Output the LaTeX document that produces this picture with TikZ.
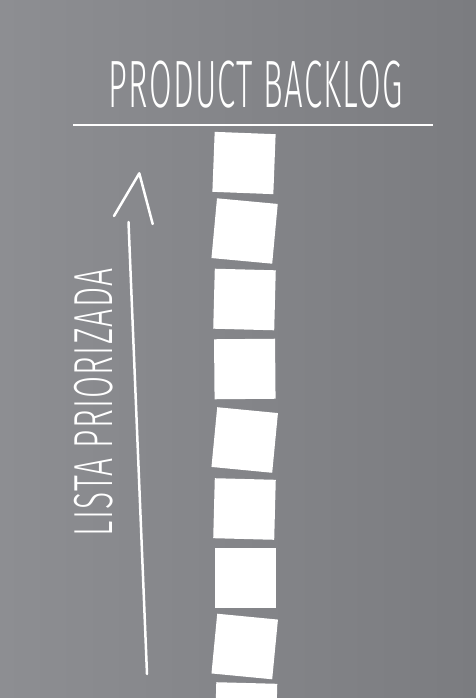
\documentclass[tikz,border=0pt]{standalone}
\usepackage{fontspec}
\newfontfamily\hand{Fira Sans Light}[LetterSpace=4]
\definecolor{bgL}{RGB}{141,142,146}
\definecolor{bgM}{RGB}{132,133,137}
\definecolor{bgR}{RGB}{123,124,128}
\tikzset{
  card/.style={fill=white, draw=none, minimum width=61pt, minimum height=60pt, inner sep=0pt},
  chalk/.style={draw=white, line width=2.5pt, line cap=round, line join=round},
  rule/.style={draw=white, line width=2pt},
  title/.style={text=white, inner sep=0pt, font=\hand\fontsize{67}{67}\selectfont, xscale=0.49},
  side/.style={text=white, inner sep=0pt, font=\hand\fontsize{55}{55}\selectfont, rotate=90, xscale=0.58}
}
\begin{document}
\begin{tikzpicture}[x=1pt,y=-1pt]
\useasboundingbox (0,0) rectangle (476,698);
\clip (0,0) rectangle (476,698);
\shade[left color=bgL, right color=bgR, middle color=bgM] (0,0) rectangle (476,698);
% title and rule
\node[title] (ttl) at (255.5,85) {PRODUCT BACKLOG};
\coordinate (l1) at (73,125);
\coordinate (l2) at (433,125);
\draw[rule] (l1) -- (l2);
% cards
\node[card, rotate=-2.2] (s1) at (244,163) {};
\node[card, rotate=-5.3] (s2) at (244.6,231) {};
\node[card, rotate=-1.5] (s3) at (244.5,299.5) {};
\node[card, rotate=0.5] (s4) at (244.8,369) {};
\node[card, rotate=-5.5] (s5) at (244.7,440) {};
\node[card, rotate=-1.5] (s6) at (244.5,509) {};
\node[card, rotate=0] (s7) at (245,577.5) {};
\node[card, rotate=-5.5] (s8) at (244.7,646.5) {};
\node[card, rotate=-1.5] (s9) at (246,713) {};
% arrow
\coordinate (abot) at (147,674);
\coordinate (atop) at (128.5,222);
\draw[chalk] (abot) -- (atop);
\coordinate (hl) at (114,216);
\coordinate (tip) at (139.3,173.3);
\coordinate (hr) at (152.7,224);
\draw[chalk] (hl) -- (tip) -- (hr);
% side label
\node[side] (lst) at (94,402.5) {LISTA PRIORIZADA};
\end{tikzpicture}
\end{document}
